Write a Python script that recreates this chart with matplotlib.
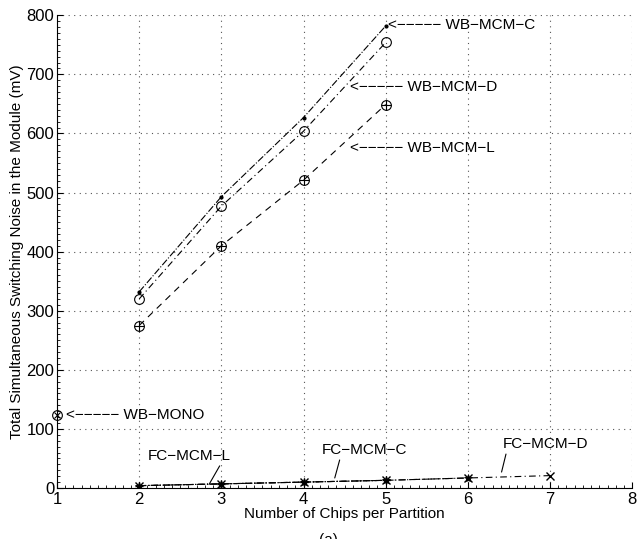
import numpy as np
import matplotlib.pyplot as plt
from matplotlib.ticker import MultipleLocator

plt.rcParams['font.family'] = ['Liberation Sans', 'DejaVu Sans']

# wire-bonded MCM series
wb_x = [2, 3, 4, 5]
wb_c = [332, 493, 627, 782]
wb_d = [320, 477, 604, 754]
wb_l = [275, 410, 521, 649]

# wire-bonded monolithic
mono_x = [1]
mono_y = [123]

# flip-chip MCM series
fc_l_x = [2, 3, 4, 5]
fc_l = [4, 7, 10, 13]
fc_c_x = [2, 3, 4, 5, 6]
fc_c = [4, 7, 10, 13, 17]
fc_d_x = [2, 3, 4, 5, 6, 7]
fc_d = [4, 7, 10, 13, 17, 21]

fig = plt.figure(figsize=(6.37, 5.39), dpi=100)
ax = fig.add_axes([0.0895, 0.0946, 0.903, 0.877])

lw = 0.8
ms = 7
ax.plot(wb_x, wb_c, color='black', linestyle='-.', lw=lw, marker='.', markersize=4)
ax.plot(wb_x, wb_d, color='black', linestyle=(0, (6, 3, 1, 3)), lw=lw,
        marker='o', mfc='none', markersize=ms, mew=0.8)
ax.plot(wb_x, wb_l, color='black', linestyle=(0, (6, 5)), lw=lw,
        marker='o', mfc='none', markersize=ms, mew=0.8)
ax.plot(wb_x, wb_l, color='black', linestyle='none', marker='+', markersize=ms, mew=0.8)

# WB-MONO, circle with x
ax.plot(mono_x, mono_y, color='black', linestyle='none', marker='o', mfc='none',
        markersize=ms, mew=0.8, clip_on=False)
ax.plot(mono_x, mono_y, color='black', linestyle='none', marker='x', markersize=5,
        mew=0.8, clip_on=False)

ax.plot(fc_l_x, fc_l, color='black', linestyle='-.', lw=lw, marker='+', markersize=6, mew=1.0)
ax.plot(fc_c_x, fc_c, color='black', linestyle='-.', lw=lw, marker='*', markersize=6, mew=0.6)
ax.plot(fc_d_x, fc_d, color='black', linestyle=(0, (6, 3, 1, 3)), lw=lw,
        marker='x', markersize=5.5, mew=1.0)

fs = 11
arrow = '<\u2212\u2212\u2212\u2212\u2212 '
ax.text(5.03, 783, arrow + 'WB\u2212MCM\u2212C', fontsize=fs, va='center')
ax.text(4.57, 678, arrow + 'WB\u2212MCM\u2212D', fontsize=fs, va='center')
ax.text(4.57, 575, arrow + 'WB\u2212MCM\u2212L', fontsize=fs, va='center')
ax.text(1.11, 123, arrow + 'WB\u2212MONO', fontsize=fs, va='center')

ax.annotate('FC\u2212MCM\u2212L', xy=(2.85, 6), xytext=(2.11, 54), fontsize=fs, va='center',
            arrowprops=dict(arrowstyle='-', lw=0.8, color='black', shrinkA=0, shrinkB=0,
                            relpos=(0.88, 0.0)))
ax.annotate('FC\u2212MCM\u2212C', xy=(4.38, 17), xytext=(4.22, 64), fontsize=fs, va='center',
            arrowprops=dict(arrowstyle='-', lw=0.8, color='black', shrinkA=0, shrinkB=0,
                            relpos=(0.22, 0.0)))
ax.annotate('FC\u2212MCM\u2212D', xy=(6.41, 27), xytext=(6.42, 74), fontsize=fs, va='center',
            arrowprops=dict(arrowstyle='-', lw=0.8, color='black', shrinkA=0, shrinkB=0,
                            relpos=(0.05, 0.0)))

ax.set_xlim(1, 8)
ax.set_ylim(0, 800)
ax.xaxis.set_major_locator(MultipleLocator(1))
ax.yaxis.set_major_locator(MultipleLocator(100))
ax.xaxis.set_minor_locator(MultipleLocator(0.1))
ax.yaxis.set_minor_locator(MultipleLocator(10))
ax.tick_params(which='major', direction='in', length=4, labelsize=12, width=0.8)
ax.tick_params(which='minor', direction='in', length=2, width=0.6)
ax.tick_params(axis='x', pad=3)
ax.tick_params(axis='y', pad=2)

ax.spines['top'].set_visible(False)
ax.spines['right'].set_visible(False)
ax.grid(True, which='major', linestyle=(0, (1, 4)), color='#555555', lw=0.8)

ax.set_xlabel('Number of Chips per Partition', fontsize=fs, labelpad=0)
ax.set_ylabel('Total Simultaneous Switching Noise in the Module (mV)', fontsize=fs, labelpad=2)

# caption sits at the page edge, partly cut off as in the source figure
fig.text(0.515, 0.012, '(a)', fontsize=fs, ha='center', va='top')

fig.savefig('out.png', dpi=100)
